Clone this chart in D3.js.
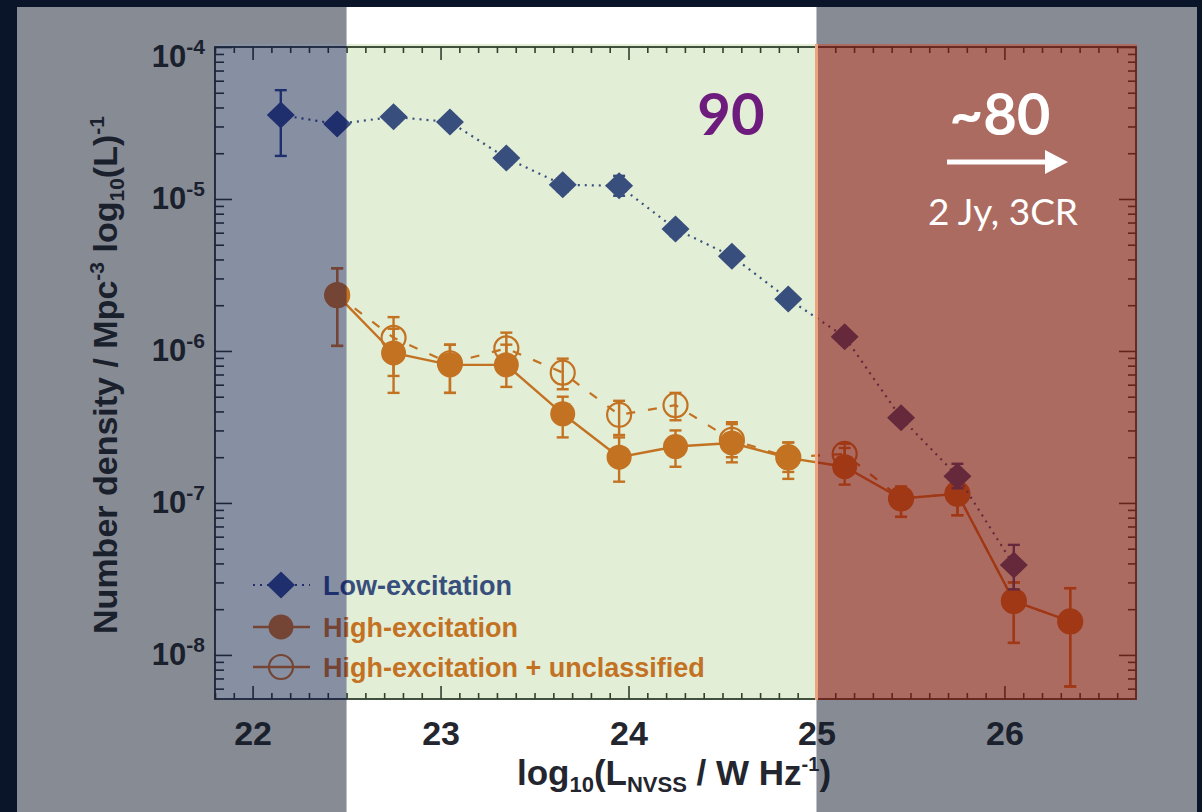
<!DOCTYPE html>
<html>
<head>
<meta charset="utf-8">
<script src="https://cdn.jsdelivr.net/npm/d3@7"></script>
<style>
  body { margin: 0; background: #0a1529; }
  svg { display: block; }
</style>
</head>
<body>
<div id="chart"></div>
<script>
// ---- data ----
// low-excitation sources
const lowL    = [22.15, 22.45, 22.75, 23.05, 23.35, 23.65, 23.95, 24.25, 24.55, 24.85, 25.15, 25.45, 25.75, 26.05];
const lowRho  = [3.57e-5, 3.11e-5, 3.47e-5, 3.21e-5, 1.86e-5, 1.24e-5, 1.22e-5, 6.35e-6, 4.2e-6, 2.2e-6, 1.24e-6, 3.63e-7, 1.5e-7, 3.9e-8];
const lowHi   = [5.2e-5, 3.4e-5, 3.8e-5, 3.5e-5, 2.05e-5, 1.37e-5, 1.42e-5, 7.0e-6, 4.6e-6, 2.4e-6, 1.36e-6, 4.0e-7, 1.81e-7, 5.3e-8];
const lowLo   = [1.92e-5, 2.85e-5, 3.15e-5, 2.9e-5, 1.68e-5, 1.12e-5, 1.05e-5, 5.7e-6, 3.8e-6, 2.0e-6, 1.12e-6, 3.3e-7, 1.25e-7, 2.7e-8];

// high-excitation sources
const highL   = [22.45, 22.75, 23.05, 23.35, 23.65, 23.95, 24.25, 24.55, 24.85, 25.15, 25.45, 25.75, 26.05, 26.35];
const highRho = [2.33e-6, 9.7e-7, 8.1e-7, 8.1e-7, 3.86e-7, 2.0e-7, 2.35e-7, 2.48e-7, 1.98e-7, 1.73e-7, 1.07e-7, 1.15e-7, 2.26e-8, 1.66e-8];
const highHi  = [3.5e-6, 1.4e-6, 1.1e-6, 1.1e-6, 5.0e-7, 2.7e-7, 3.0e-7, 3.4e-7, 2.5e-7, 2.3e-7, 1.28e-7, 1.45e-7, 3.0e-8, 2.75e-8];
const highLo  = [1.08e-6, 5.3e-7, 5.3e-7, 5.8e-7, 2.7e-7, 1.38e-7, 1.73e-7, 1.85e-7, 1.44e-7, 1.32e-7, 8.1e-8, 8.3e-8, 1.2e-8, 6.2e-9];

// high-excitation + unclassified (same bins as highL)
const unclRho = [2.33e-6, 1.22e-6, 8.3e-7, 1.04e-6, 7.2e-7, 3.8e-7, 4.4e-7, 2.6e-7, 2.0e-7, 2.1e-7, 1.07e-7, 1.15e-7, 2.26e-8, 1.66e-8];
const unclHi  = [3.5e-6, 1.67e-6, 1.1e-6, 1.32e-6, 8.9e-7, 4.7e-7, 5.3e-7, 3.3e-7, 2.5e-7, 2.45e-7, 1.28e-7, 1.45e-7, 3.0e-8, 2.75e-8];
const unclLo  = [1.08e-6, 6.85e-7, 5.3e-7, 8.0e-7, 5.6e-7, 2.8e-7, 3.5e-7, 2.0e-7, 1.6e-7, 1.75e-7, 8.1e-8, 8.3e-8, 1.2e-8, 6.2e-9];

const xMajor = [22, 23, 24, 25, 26];
const yMajor = [1e-8, 1e-7, 1e-6, 1e-5, 1e-4];
const yExp   = ["-8", "-7", "-6", "-5", "-4"];

// luminosity zones highlighted on the slide
const zoneEdges = [21.8, 22.5, 25.0, 26.7];
const legendLabels = ["Low-excitation", "High-excitation", "High-excitation + unclassified"];

// ---- setup ----
const W = 1202, H = 812;
const panel = { left: 17, right: 1197, top: 7, bottom: 812 };
const plot = { left: 215, right: 1136, top: 47, bottom: 699 };

const navy = "#2b3790";
const orange = "#d9641e";
const ink = "#23262e";

const svg = d3.select("#chart").append("svg")
  .attr("width", W).attr("height", H);

svg.append("rect")
  .attr("x", panel.left).attr("y", panel.top)
  .attr("width", panel.right - panel.left).attr("height", panel.bottom - panel.top)
  .attr("fill", "#fff");

const x = d3.scaleLinear().domain([21.8, 26.7]).range([plot.left, plot.right]);
const y = d3.scaleLog().domain([Math.pow(10, -8.29), 1e-4]).range([plot.bottom, plot.top]);

// minor tick values
const xMinor = d3.range(218, 267).map(d => d / 10).filter(d => Math.abs(d - Math.round(d)) > 1e-6);
const yMinor = [];
for (let e = -9; e < -4; e++) {
  for (let k = 2; k <= 9; k++) {
    const v = k * Math.pow(10, e);
    if (v >= y.domain()[0] && v <= 1e-4) yMinor.push(v);
  }
}

const g = svg.append("g");

// axes, ticks pointing inward
function styleAxis(sel) {
  sel.select(".domain").remove();
  sel.selectAll(".tick line").attr("stroke", ink).attr("stroke-width", 1.6);
}

g.append("g").attr("transform", `translate(0,${plot.bottom})`)
  .call(d3.axisBottom(x).tickValues(xMinor).tickSize(-6).tickFormat(""))
  .call(styleAxis);
const xAxis = g.append("g").attr("transform", `translate(0,${plot.bottom})`)
  .call(d3.axisBottom(x).tickValues(xMajor).tickSize(-13).tickPadding(22).tickFormat(d3.format("d")))
  .call(styleAxis);
xAxis.selectAll("text")
  .attr("fill", ink)
  .style("font", "bold 34px 'Liberation Sans', Arial, sans-serif");

g.append("g").attr("transform", `translate(0,${plot.top})`)
  .call(d3.axisTop(x).tickValues(xMinor).tickSize(-6).tickFormat(""))
  .call(styleAxis);
g.append("g").attr("transform", `translate(0,${plot.top})`)
  .call(d3.axisTop(x).tickValues(xMajor).tickSize(-13).tickFormat(""))
  .call(styleAxis);

g.append("g").attr("transform", `translate(${plot.left},0)`)
  .call(d3.axisLeft(y).tickValues(yMinor).tickSize(-9).tickFormat(""))
  .call(styleAxis);
const yAxis = g.append("g").attr("transform", `translate(${plot.left},0)`)
  .call(d3.axisLeft(y).tickValues(yMajor).tickSize(-17).tickPadding(10).tickFormat(""))
  .call(styleAxis);
yAxis.selectAll(".tick text").each(function (d, i) {
  const t = d3.select(this)
    .attr("fill", ink)
    .attr("dy", d === 1e-4 ? "0.62em" : "0.32em")
    .style("font", "bold 31px 'Liberation Sans', Arial, sans-serif");
  t.append("tspan").text("10");
  t.append("tspan").attr("dy", -13).style("font-size", "21px").text(yExp[i]);
});

g.append("g").attr("transform", `translate(${plot.right},0)`)
  .call(d3.axisRight(y).tickValues(yMinor).tickSize(-8).tickFormat(""))
  .call(styleAxis);
g.append("g").attr("transform", `translate(${plot.right},0)`)
  .call(d3.axisRight(y).tickValues(yMajor).tickSize(-17).tickFormat(""))
  .call(styleAxis);

g.append("rect")
  .attr("x", plot.left).attr("y", plot.top)
  .attr("width", plot.right - plot.left).attr("height", plot.bottom - plot.top)
  .attr("fill", "none").attr("stroke", ink).attr("stroke-width", 1.8);

// axis titles
const yTitle = g.append("text")
  .attr("transform", `translate(117,375) rotate(-90)`)
  .attr("text-anchor", "middle")
  .attr("fill", ink)
  .style("font", "bold 34px 'Liberation Sans', Arial, sans-serif");
yTitle.append("tspan").text("Number density / Mpc");
yTitle.append("tspan").attr("dy", -13).style("font-size", "21px").text("-3");
yTitle.append("tspan").attr("dy", 13).text(" log");
yTitle.append("tspan").attr("dy", 7).style("font-size", "21px").text("10");
yTitle.append("tspan").attr("dy", -7).text("(L)");
yTitle.append("tspan").attr("dy", -13).style("font-size", "21px").text("-1");

const xTitle = g.append("text")
  .attr("x", 674).attr("y", 785)
  .attr("text-anchor", "middle")
  .attr("fill", ink)
  .style("font", "bold 35px 'Liberation Sans', Arial, sans-serif");
xTitle.append("tspan").text("log");
xTitle.append("tspan").attr("dy", 7).style("font-size", "22px").text("10");
xTitle.append("tspan").attr("dy", -7).text("(L");
xTitle.append("tspan").attr("dy", 7).style("font-size", "22px").text("NVSS");
xTitle.append("tspan").attr("dy", -7).text(" / W Hz");
xTitle.append("tspan").attr("dy", -14).style("font-size", "20px").text("-1");
xTitle.append("tspan").attr("dy", 14).text(")");

// ---- series ----
const low = lowL.map((l, i) => ({ l, v: lowRho[i], hi: lowHi[i], lo: lowLo[i] }));
const high = highL.map((l, i) => ({ l, v: highRho[i], hi: highHi[i], lo: highLo[i] }));
const uncl = highL.map((l, i) => ({ l, v: unclRho[i], hi: unclHi[i], lo: unclLo[i] }));

const line = d3.line().x(d => x(d.l)).y(d => y(d.v));

function errorBars(data, color) {
  const eb = g.append("g").attr("stroke", color).attr("stroke-width", 2.4);
  eb.selectAll("line.v").data(data).join("line")
    .attr("x1", d => x(d.l)).attr("x2", d => x(d.l))
    .attr("y1", d => y(d.hi)).attr("y2", d => y(d.lo));
  eb.selectAll("line.t").data(data).join("line")
    .attr("x1", d => x(d.l) - 6).attr("x2", d => x(d.l) + 6)
    .attr("y1", d => y(d.hi)).attr("y2", d => y(d.hi));
  eb.selectAll("line.b").data(data).join("line")
    .attr("x1", d => x(d.l) - 6).attr("x2", d => x(d.l) + 6)
    .attr("y1", d => y(d.lo)).attr("y2", d => y(d.lo));
}

// hi-excitation + unclassified: dashed, open circles
g.append("path").datum(uncl).attr("d", line)
  .attr("fill", "none").attr("stroke", orange).attr("stroke-width", 2.2)
  .attr("stroke-dasharray", "9,13");
errorBars(uncl, orange);
g.append("g").selectAll("circle").data(uncl).join("circle")
  .attr("cx", d => x(d.l)).attr("cy", d => y(d.v)).attr("r", 12)
  .attr("fill", "none").attr("stroke", orange).attr("stroke-width", 2.2);

// hi-excitation: solid, filled circles
g.append("path").datum(high).attr("d", line)
  .attr("fill", "none").attr("stroke", orange).attr("stroke-width", 2.4);
errorBars(high, orange);
g.append("g").selectAll("circle").data(high).join("circle")
  .attr("cx", d => x(d.l)).attr("cy", d => y(d.v)).attr("r", 12.5)
  .attr("fill", orange);

// low-excitation: dotted, diamonds
g.append("path").datum(low).attr("d", line)
  .attr("fill", "none").attr("stroke", navy).attr("stroke-width", 2.2)
  .attr("stroke-dasharray", "2,5");
errorBars(low, navy);
const diamond = (cx, cy) => `M${cx - 14},${cy}L${cx},${cy - 13.5}L${cx + 14},${cy}L${cx},${cy + 13.5}Z`;
g.append("g").selectAll("path").data(low).join("path")
  .attr("d", d => diamond(x(d.l), y(d.v)))
  .attr("fill", navy);

// ---- legend ----
const legX = plot.left + 38, legY = [585, 627, 667];
const leg = g.append("g");
leg.append("line").attr("x1", legX).attr("x2", legX + 57).attr("y1", legY[0]).attr("y2", legY[0])
  .attr("stroke", navy).attr("stroke-width", 2.2).attr("stroke-dasharray", "2,5");
leg.append("path").attr("d", diamond(legX + 28, legY[0])).attr("fill", navy);
leg.append("line").attr("x1", legX).attr("x2", legX + 57).attr("y1", legY[1]).attr("y2", legY[1])
  .attr("stroke", orange).attr("stroke-width", 2.4);
leg.append("circle").attr("cx", legX + 28).attr("cy", legY[1]).attr("r", 12.5).attr("fill", orange);
leg.append("line").attr("x1", legX).attr("x2", legX + 57).attr("y1", legY[2]).attr("y2", legY[2])
  .attr("stroke", orange).attr("stroke-width", 2.4);
leg.append("circle").attr("cx", legX + 28).attr("cy", legY[2]).attr("r", 12)
  .attr("fill", "none").attr("stroke", orange).attr("stroke-width", 2.2);
leg.selectAll("text").data(legendLabels).join("text")
  .attr("x", legX + 70).attr("y", (d, i) => legY[i] + 10)
  .attr("fill", (d, i) => i === 0 ? navy : orange)
  .style("font", "bold 27px 'Liberation Sans', Arial, sans-serif")
  .text(d => d);

// ---- slide overlays ----
const ov = svg.append("g");
const xa = x(zoneEdges[1]), xb = x(zoneEdges[2]);
const zTop = plot.top - 3, zBot = plot.bottom + 1;
const gray = "rgb(20,27,45)";
// gray outside the plot, left and right columns
[[panel.left, panel.top, xa, zTop], [panel.left, zBot, xa, panel.bottom], [panel.left, zTop, plot.left, zBot],
 [xb, panel.top, panel.right, zTop], [xb, zBot, panel.right, panel.bottom], [plot.right + 1, zTop, panel.right, zBot]]
  .forEach(([x0, y0, x1, y1]) => {
    ov.append("rect").attr("x", x0).attr("y", y0).attr("width", x1 - x0).attr("height", y1 - y0)
      .attr("fill", gray).attr("fill-opacity", 0.51);
  });
// tinted zones inside the plot
ov.append("rect").attr("x", plot.left).attr("y", zTop).attr("width", xa - plot.left).attr("height", zBot - zTop)
  .attr("fill", "rgb(20,37,75)").attr("fill-opacity", 0.51);
ov.append("rect").attr("x", xa).attr("y", zTop).attr("width", xb - xa).attr("height", zBot - zTop)
  .attr("fill", "rgb(110,170,50)").attr("fill-opacity", 0.2);
ov.append("rect").attr("x", xb).attr("y", zTop).attr("width", plot.right + 1 - xb).attr("height", zBot - zTop)
  .attr("fill", "rgb(131,34,18)").attr("fill-opacity", 0.67);
ov.append("line").attr("x1", xb).attr("x2", xb).attr("y1", zTop).attr("y2", zBot)
  .attr("stroke", "#eea57f").attr("stroke-width", 3);

// annotations
ov.append("text").attr("x", 731).attr("y", 135).attr("text-anchor", "middle")
  .attr("fill", "#6e1b7e")
  .style("font", "bold 58px Lato, 'Open Sans', sans-serif")
  .text("90");
ov.append("text").attr("x", 1000).attr("y", 135).attr("text-anchor", "middle")
  .attr("fill", "#fff")
  .style("font", "bold 58px Lato, 'Open Sans', sans-serif")
  .text("~80");
ov.append("line").attr("x1", 947).attr("x2", 1048).attr("y1", 162).attr("y2", 162)
  .attr("stroke", "#fff").attr("stroke-width", 5);
ov.append("path").attr("d", "M1045,150L1068,162L1045,174Z").attr("fill", "#fff");
ov.append("text").attr("x", 1003).attr("y", 225).attr("text-anchor", "middle")
  .attr("fill", "#fff")
  .style("font", "37px Lato, 'Open Sans', sans-serif")
  .text("2 Jy, 3CR");
</script>
</body>
</html>
